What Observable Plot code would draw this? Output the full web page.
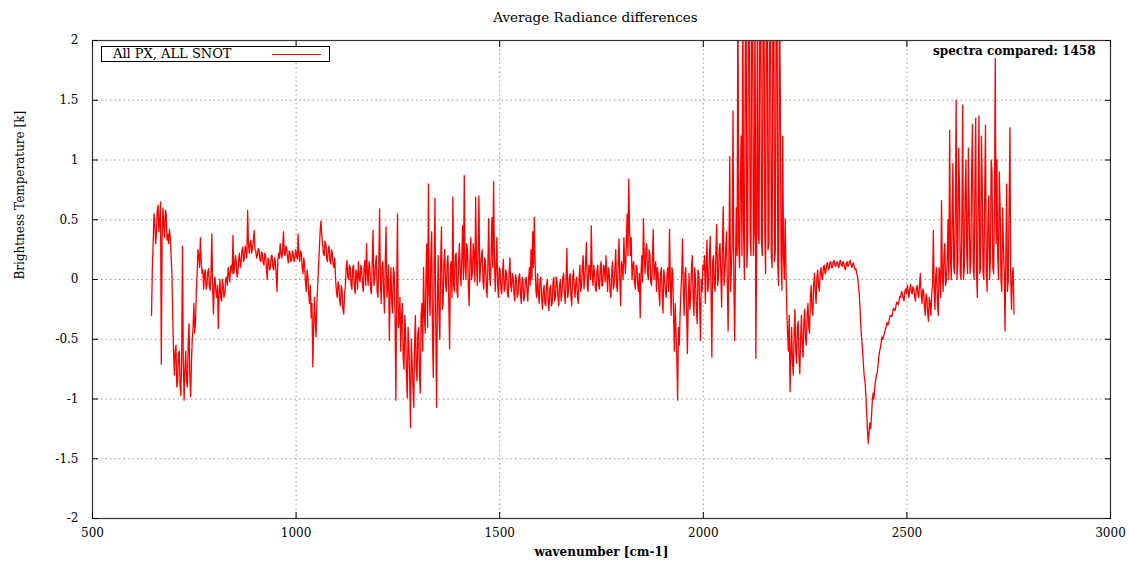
<!DOCTYPE html>
<html>
<head>
<meta charset="utf-8">
<script src="https://cdn.jsdelivr.net/npm/d3@7"></script>
<script src="https://cdn.jsdelivr.net/npm/@observablehq/plot@0.6"></script>
<style>
  body { margin: 0; background: #fff; }
  #wrap { position: relative; width: 1129px; height: 561px; font-family: "DejaVu Serif", "Liberation Serif", serif; }
  #title { position: absolute; top: 9px; left: 0; width: 1129px; padding-left: 62px; box-sizing: border-box; text-align: center; font-size: 13.5px; color: #000; }
  #chart { position: absolute; top: 30px; left: 0; }
  #legend { position: absolute; left: 101px; top: 46px; width: 227px; height: 14px; border: 1px solid #000; background: #fff; font-size: 13px; line-height: 14px; }
  #legend span { position: absolute; left: 11px; top: 0; }
  #legend i { position: absolute; left: 170px; top: 7px; width: 49px; height: 0; border-top: 1px solid #ff0000; }
</style>
</head>
<body>
<div id="wrap">
  <div id="title">Average Radiance differences</div>
  <div id="chart"></div>
  <div id="legend"><span>All PX, ALL SNOT</span><i></i></div>
</div>
<script>
// Spectrum sampled on a regular wavenumber grid (cm-1)
const wnStart = 645;
const wnStep = 4;
// Brightness temperature differences [K] at wnStart + 4i; one row = 40 cm-1
const bt = [
  -0.30, 0.30, 0.48, 0.38, 0.62, 0.50, -0.71, 0.60, 0.35, 0.55,   // 645
  0.38, 0.42, 0.20, -0.30, -0.80, -0.55, -0.85, -0.60, -0.97, 0.28, // 685
  -1.01, -0.60, -0.90, -0.37, -0.98, -0.50, -0.20, -0.35, 0.05, 0.20, // 725
  0.35, 0.05, -0.08, 0.08, -0.05, 0.09, -0.09, 0.38, -0.29, 0.02,  // 765
  -0.15, -0.41, 0.00, -0.18, -0.05, -0.12, 0.02, 0.10, -0.02, 0.12, // 805
  0.37, 0.10, 0.15, 0.05, 0.22, 0.14, 0.27, 0.18, 0.25, 0.58,      // 845
  0.22, 0.33, 0.26, 0.41, 0.24, 0.20, 0.25, 0.15, 0.22, 0.12,      // 885
  0.20, 0.00, 0.16, 0.10, 0.20, 0.08, 0.15, -0.10, 0.22, 0.30,     // 925
  0.18, 0.40, 0.20, 0.26, 0.14, 0.22, 0.16, 0.21, 0.18, 0.20,      // 965
  0.38, 0.15, 0.22, 0.05, 0.12, -0.10, 0.02, -0.20, -0.32, -0.73,  // 1005
  -0.15, -0.48, -0.05, 0.25, 0.49, 0.30, 0.20, 0.30, 0.15, 0.28,   // 1045
  0.13, 0.22, 0.10, 0.00, -0.15, -0.05, -0.22, -0.10, -0.29, -0.05, // 1085
  0.16, 0.00, 0.10, -0.08, 0.12, -0.12, 0.05, 0.15, -0.02, 0.08,   // 1125
  -0.10, 0.16, 0.30, -0.05, 0.10, -0.12, 0.41, 0.00, 0.20, -0.15,  // 1165
  0.59, -0.20, 0.15, -0.28, 0.44, -0.05, -0.51, 0.10, -0.28, 0.05, // 1205
  -1.01, 0.55, -0.35, -0.60, -0.20, -0.75, -0.45, -0.99, -0.55, -1.24, // 1245
  -0.70, -1.07, -0.30, -0.85, -0.40, -0.95, -0.20, 0.10, -0.45, 0.30, // 1285
  0.80, -0.30, 0.40, -0.82, 0.68, -1.07, 0.20, -0.50, 0.44, -0.20, // 1325
  0.25, -0.10, 0.20, -0.58, 0.15, 0.69, -0.10, 0.22, -0.15, 0.30,  // 1365
  -0.05, 0.45, 0.87, 0.00, 0.25, -0.22, 0.35, 0.05, 0.20, 0.69,    // 1405
  -0.05, 0.70, 0.10, 0.25, -0.08, 0.15, -0.15, 0.51, -0.05, 0.52,  // 1445
  0.82, -0.10, 0.35, -0.15, 0.08, -0.12, 0.17, -0.08, 0.05, -0.15, // 1485
  0.18, -0.10, 0.02, -0.18, 0.00, -0.12, 0.05, -0.20, 0.00, -0.15, // 1525
  0.02, -0.18, 0.10, 0.25, 0.40, 0.52, -0.10, 0.05, -0.20, 0.02,   // 1565
  -0.25, -0.05, -0.22, 0.00, -0.26, -0.05, -0.20, 0.02, -0.15, -0.02, // 1605
  -0.22, 0.00, -0.12, 0.05, -0.20, 0.26, -0.10, 0.05, -0.22, 0.08, // 1645
  -0.15, 0.02, -0.20, 0.12, -0.05, 0.20, 0.00, 0.31, -0.10, 0.10,  // 1685
  0.45, -0.05, 0.05, -0.10, 0.12, -0.08, 0.15, -0.05, 0.10, 0.20,  // 1725
  -0.10, 0.05, -0.15, 0.15, -0.05, 0.25, -0.10, 0.34, -0.22, 0.10, // 1765
  0.35, 0.05, 0.55, 0.84, 0.20, 0.00, 0.15, -0.08, 0.10, -0.10,    // 1805
  -0.32, 0.20, 0.51, 0.05, 0.30, 0.00, 0.20, -0.05, 0.42, 0.10,    // 1845
  -0.10, 0.05, -0.22, 0.10, -0.28, 0.02, -0.15, 0.10, 0.42, -0.30, // 1885
  0.05, -0.60, -0.45, -1.01, -0.55, -0.10, 0.34, -0.30, 0.10, -0.62, // 1925
  0.05, -0.15, 0.20, -0.30, 0.00, -0.37, 0.05, -0.51, -0.10, 0.08, // 1965
  -0.20, 0.33, -0.05, 0.36, -0.65, 0.20, -0.10, 0.46, 0.00, 0.30,  // 2005
  -0.23, 0.61, 0.05, 0.40, -0.43, 1.03, 0.10, 1.41, -0.51, 0.60,   // 2045
  2.50, 0.10, 1.20, 2.50, 0.00, 2.50, 0.30, 2.50, 0.20, 2.50,      // 2085
  0.40, -0.66, 2.50, 0.30, 2.50, 0.20, 2.50, 0.05, 2.50, 0.30,     // 2125
  2.50, 0.10, 2.50, 0.25, 2.50, -0.05, 1.60, -0.09, 0.20, 0.51,    // 2165
  -0.25, -0.60, -0.94, -0.40, -0.80, -0.25, -0.70, -0.35, -0.79, -0.30, // 2205
  -0.65, -0.25, -0.55, -0.20, -0.45, -0.05, -0.30, 0.05, -0.20, 0.08, // 2245
  -0.10, 0.10, 0.00, 0.12, 0.06, 0.14, 0.09, 0.15, 0.10, 0.16,     // 2285
  0.11, 0.15, 0.10, 0.16, 0.11, 0.14, 0.08, 0.15, 0.12, 0.16,      // 2325
  0.10, 0.14, 0.08, 0.05, -0.05, -0.25, -0.50, -0.70, -0.85, -1.10, // 2365
  -1.37, -1.20, -1.15, -0.95, -0.90, -0.80, -0.72, -0.60, -0.52, -0.50, // 2405
  -0.45, -0.40, -0.38, -0.33, -0.30, -0.28, -0.25, -0.22, -0.20, -0.17, // 2445
  -0.15, -0.12, -0.18, -0.08, -0.05, -0.15, -0.04, -0.12, -0.08, -0.18, // 2485
  -0.05, -0.15, 0.05, -0.20, -0.10, -0.30, -0.15, -0.35, -0.20, -0.12, // 2525
  0.41, -0.25, 0.10, -0.30, 0.05, 0.66, -0.10, 0.30, 0.00, 0.50,   // 2565
  1.25, 0.00, 0.97, 0.05, 1.50, 0.15, 0.80, 0.00, 1.46, 0.10,      // 2605
  1.00, 0.05, 0.60, 0.15, 1.30, 0.00, 1.35, -0.15, 1.37, 0.10,     // 2645
  0.80, 0.00, 1.29, -0.10, 0.70, 0.15, 0.90, 0.05, 1.85, 1.00,     // 2685
  0.00, 0.60, -0.10, 0.30, -0.43, 0.80, 0.00, 1.27, -0.25, 0.10    // 2725
];
// Values at the half steps, wnStart + 4i + 2
const btMid = [
  0.10, 0.55, 0.30, 0.58, 0.40, 0.65, 0.35, 0.45, 0.58, 0.33,      // 647
  0.30, 0.35, 0.05, -0.60, -0.60, -0.90, -0.62, -0.88, -0.65, -0.70, // 687
  -0.75, -0.85, -0.55, -0.80, -0.70, -0.40, -0.45, -0.10, 0.25, 0.10, // 727
  0.15, 0.08, 0.05, -0.08, 0.06, -0.06, 0.05, -0.05, -0.05, -0.10, // 767
  -0.05, -0.12, -0.15, 0.00, -0.15, 0.00, -0.05, 0.05, 0.10, 0.05, // 807
  0.05, 0.20, 0.02, 0.18, 0.10, 0.24, 0.15, 0.28, 0.18, 0.30,      // 847
  0.30, 0.22, 0.33, 0.25, 0.18, 0.26, 0.17, 0.23, 0.14, 0.22,      // 887
  0.10, 0.18, 0.08, 0.20, 0.10, 0.18, 0.05, 0.15, 0.18, 0.22,      // 927
  0.26, 0.22, 0.28, 0.18, 0.24, 0.15, 0.24, 0.15, 0.25, 0.17,      // 967
  0.20, 0.24, 0.10, 0.18, -0.02, 0.08, -0.12, -0.05, -0.20, -0.40, // 1007
  -0.35, -0.20, 0.10, 0.40, 0.38, 0.22, 0.32, 0.18, 0.26, 0.16,    // 1047
  0.25, 0.12, 0.18, -0.10, -0.02, -0.18, -0.05, -0.25, -0.12, 0.10, // 1087
  0.02, 0.12, -0.05, 0.10, -0.05, 0.08, -0.08, 0.02, 0.12, -0.05,  // 1127
  0.10, -0.05, 0.05, 0.15, -0.08, 0.15, -0.05, 0.12, -0.10, 0.10,  // 1167
  0.00, 0.10, -0.10, 0.15, -0.15, 0.12, -0.10, -0.20, 0.10, -0.30, // 1207
  -0.10, -0.40, -0.15, -0.30, -0.65, -0.30, -0.80, -0.40, -0.85, -0.50, // 1247
  -0.90, -0.55, -0.75, -0.45, -0.80, -0.30, -0.60, -0.30, 0.05, -0.40, // 1287
  -0.10, 0.20, -0.50, 0.10, -0.40, -0.20, -0.30, 0.15, -0.25, 0.15, // 1327
  -0.05, 0.15, -0.20, 0.10, -0.15, -0.05, 0.20, -0.10, 0.15, 0.05, // 1367
  0.20, 0.00, 0.10, 0.30, -0.05, 0.15, 0.00, 0.30, -0.02, 0.15,    // 1407
  0.25, -0.02, 0.20, -0.02, 0.18, -0.05, 0.12, 0.05, 0.20, 0.10,   // 1447
  0.20, 0.10, -0.05, 0.10, -0.08, 0.05, -0.10, 0.08, -0.12, 0.05,  // 1487
  -0.05, 0.05, -0.12, 0.04, -0.15, 0.02, -0.12, 0.02, -0.18, 0.00, // 1527
  -0.10, 0.00, -0.05, 0.00, 0.10, 0.15, -0.15, -0.12, 0.00, -0.15, // 1567
  -0.10, -0.20, -0.05, -0.18, -0.08, -0.22, -0.02, -0.18, 0.02, -0.15, // 1607
  -0.05, -0.18, 0.02, -0.12, 0.00, -0.15, 0.02, -0.15, 0.00, -0.05, // 1647
  -0.02, -0.15, 0.00, -0.10, 0.10, -0.08, 0.15, -0.05, 0.12, 0.00, // 1687
  0.05, 0.12, -0.08, 0.08, -0.05, 0.10, -0.05, 0.12, -0.02, 0.05,  // 1727
  0.10, -0.10, 0.05, -0.08, 0.10, -0.05, 0.12, 0.00, 0.15, 0.00,   // 1767
  0.15, 0.30, 0.20, 0.40, 0.35, 0.12, -0.02, 0.12, -0.05, 0.05,    // 1807
  0.05, -0.02, 0.20, 0.25, 0.05, 0.25, -0.02, 0.15, 0.00, 0.15,    // 1847
  0.10, -0.10, 0.05, -0.12, 0.08, -0.10, 0.05, -0.10, 0.00, 0.10,  // 1887
  -0.30, -0.20, -0.65, -0.40, -0.30, 0.05, -0.10, 0.05, -0.25, -0.20, // 1927
  -0.25, 0.10, -0.15, 0.10, -0.25, 0.08, -0.20, 0.00, 0.12, 0.20,  // 1967
  0.10, -0.10, 0.20, -0.10, 0.15, -0.05, 0.25, -0.05, 0.25, 0.05,  // 2007
  0.30, -0.05, 0.25, -0.05, 0.20, -0.10, 0.30, 0.00, 0.10, 0.20,   // 2047
  0.30, 0.80, 0.20, 0.40, 1.80, 0.10, 2.50, 0.40, 2.50, 0.20,      // 2087
  2.50, 0.20, 0.40, 2.50, 0.30, 2.50, 0.40, 2.50, 0.25, 2.50,      // 2127
  0.20, 2.50, 0.15, 2.50, 0.10, 2.50, 0.20, 1.20, 0.00, 0.10,      // 2167
  -0.45, -0.30, -0.65, -0.70, -0.45, -0.60, -0.40, -0.65, -0.50, -0.55, // 2207
  -0.35, -0.50, -0.30, -0.40, -0.15, -0.25, -0.05, -0.10, 0.02, -0.05, // 2247
  0.05, 0.02, 0.10, 0.05, 0.13, 0.08, 0.14, 0.10, 0.15, 0.12,      // 2287
  0.14, 0.11, 0.15, 0.12, 0.15, 0.10, 0.13, 0.11, 0.15, 0.12,      // 2327
  0.13, 0.10, 0.09, 0.02, -0.12, -0.40, -0.58, -0.80, -0.95, -1.25, // 2367
  -1.28, -1.25, -1.02, -1.00, -0.85, -0.78, -0.65, -0.57, -0.48, -0.47, // 2407
  -0.42, -0.36, -0.37, -0.30, -0.31, -0.24, -0.26, -0.19, -0.21, -0.14, // 2447
  -0.10, -0.16, -0.10, -0.12, -0.10, -0.08, -0.10, -0.06, -0.14, -0.08, // 2487
  -0.12, -0.05, -0.12, -0.08, -0.22, -0.12, -0.28, -0.15, -0.30, -0.05, // 2527
  -0.10, 0.05, -0.20, 0.10, -0.15, 0.05, 0.20, -0.05, 0.15, 0.00,  // 2567
  0.20, 0.50, 0.10, 0.60, 0.00, 1.10, 0.05, 0.50, 0.00, 0.70,      // 2607
  0.20, 1.10, 0.05, 0.90, 0.10, 0.80, 0.05, 0.70, 0.05, 1.20,      // 2647
  0.05, 0.70, 0.05, 0.50, 0.00, 1.00, 0.10, 0.60, 0.30, 0.20,      // 2687
  0.90, 0.00, 0.60, 0.05, 0.20, -0.10, 0.60, 0.00, 0.05, -0.29     // 2727
];
const xTicks = [500, 1000, 1500, 2000, 2500, 3000];
const yTicks = [-2, -1.5, -1, -0.5, 0, 0.5, 1, 1.5, 2];
const note = "spectra compared: 1458";

const data = bt.flatMap((v, i) => [
  {wn: wnStart + i * wnStep, bt: v},
  {wn: wnStart + i * wnStep + wnStep / 2, bt: btMid[i]}
]);

const chart = Plot.plot({
  width: 1129,
  height: 531,
  marginTop: 10,
  marginLeft: 92,
  marginRight: 19,
  marginBottom: 43,
  style: {fontFamily: "'DejaVu Serif', 'Liberation Serif', serif", fontSize: "12px", color: "#000", background: "#fff"},
  x: {domain: [500, 3000]},
  y: {domain: [-2, 2]},
  marks: [
    Plot.gridX(xTicks, {stroke: "#999", strokeOpacity: 1, strokeDasharray: "1.5,3"}),
    Plot.gridY(yTicks, {stroke: "#999", strokeOpacity: 1, strokeDasharray: "1.5,3"}),
    Plot.lineY(data, {x: "wn", y: "bt", stroke: "#ff0000", strokeWidth: 1.3, clip: true}),
    Plot.frame({stroke: "#333", strokeWidth: 1.2}),
    Plot.axisX(xTicks, {anchor: "bottom", tickSize: -6, tickPadding: 16, label: null, tickFormat: d => String(d), fontSize: 12}),
    Plot.axisX(xTicks, {anchor: "top", tickSize: -6, label: null, tickFormat: () => ""}),
    Plot.axisY(yTicks, {anchor: "left", tickSize: -6, tickPadding: 20, label: null, tickFormat: d => String(d), fontSize: 12}),
    Plot.axisY(yTicks, {anchor: "right", tickSize: -6, label: null, tickFormat: () => ""}),
    Plot.text([note], {frameAnchor: "top-right", dx: -15, dy: 6, fontWeight: "bold", fontSize: 12}),
    Plot.text(["wavenumber [cm-1]"], {frameAnchor: "bottom", dy: 37, fontWeight: "bold", fontSize: 12}),
    Plot.text(["Brightness Temperature [k]"], {frameAnchor: "left", dx: -72, rotate: -90, fontSize: 12})
  ]
});
document.getElementById("chart").appendChild(chart);
</script>
</body>
</html>
